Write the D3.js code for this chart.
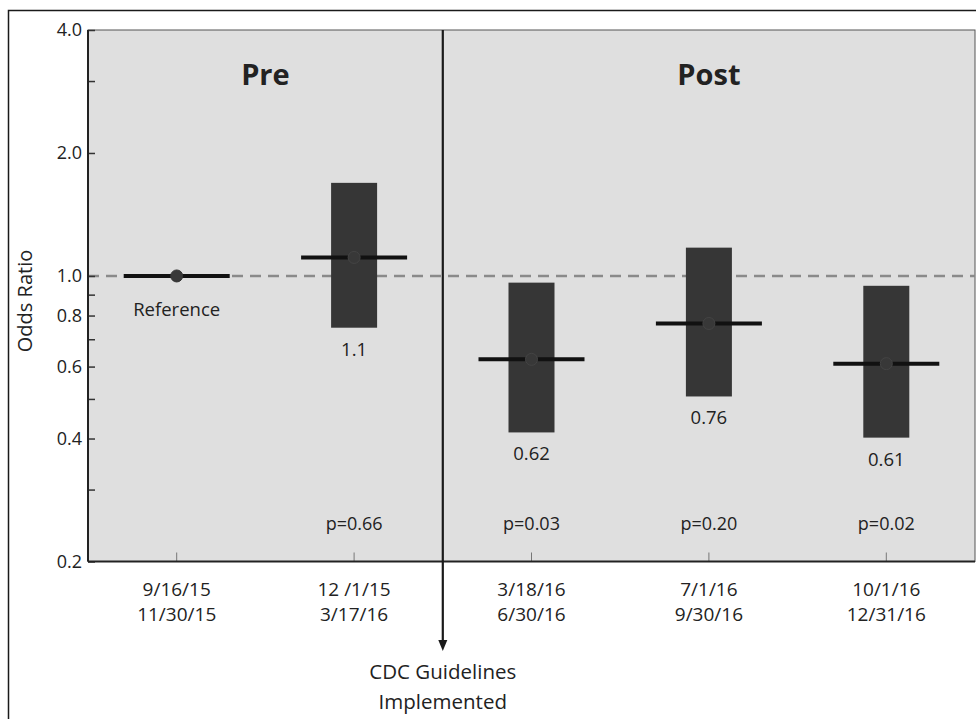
<!DOCTYPE html>
<html>
<head>
<meta charset="utf-8">
<script src="https://cdn.jsdelivr.net/npm/d3@7"></script>
<style>
  body { margin: 0; background: #fff; }
  text { font-family: "Open Sans", sans-serif; fill: #222; }
</style>
</head>
<body>
<div id="chart"></div>
<script>
// periods (two-line x labels)
var periodStart = ["9/16/15", "12 /1/15", "3/18/16", "7/1/16", "10/1/16"];
var periodEnd = ["11/30/15", "3/17/16", "6/30/16", "9/30/16", "12/31/16"];

// odds ratios and 95% CI
var oddsRatio = [1.0, 1.11, 0.625, 0.765, 0.61];
var ciLow = [null, 0.747, 0.414, 0.507, 0.402];
var ciHigh = [null, 1.69, 0.963, 1.173, 0.946];
var valueLabels = ["Reference", "1.1", "0.62", "0.76", "0.61"];
var pValues = ["", "p=0.66", "p=0.03", "p=0.20", "p=0.02"];

// y ticks
var majorTicks = [0.2, 0.4, 0.6, 0.8, 1.0, 2.0, 4.0];
var minorTicks = [0.3, 0.5, 0.7, 0.9, 3.0];

var svgWidth = 976, svgHeight = 719;
var margin = {top: 30, right: 1, bottom: 157.5, left: 88};
var chartWidth = svgWidth - margin.left - margin.right;
var chartHeight = svgHeight - margin.top - margin.bottom;

var svg = d3.select("#chart").append("svg")
    .attr("width", svgWidth)
    .attr("height", svgHeight);

// outer frame (top + left only, the rest is cut off)
svg.append("path")
    .attr("d", "M8.5," + svgHeight + "V10.5H" + svgWidth)
    .attr("fill", "none")
    .attr("stroke", "#1a1a1a")
    .attr("stroke-width", 1.5);

var g = svg.append("g")
    .attr("transform", `translate(${margin.left}, ${margin.top})`);

var idx = d3.range(periodStart.length);
var xScale = d3.scaleBand().domain(idx).range([0, chartWidth]);
var xMid = function(i) { return xScale(i) + xScale.bandwidth() / 2; };
var yScale = d3.scaleLog().domain([0.2, 4]).range([chartHeight, 0]);

// plot background
g.append("rect")
    .attr("width", chartWidth)
    .attr("height", chartHeight)
    .attr("fill", "#dfdfdf")
    .attr("stroke", "#555")
    .attr("stroke-width", 1);

// reference line at OR = 1
g.append("line")
    .attr("x1", 0).attr("x2", chartWidth)
    .attr("y1", yScale(1)).attr("y2", yScale(1))
    .attr("stroke", "#8a8a8a")
    .attr("stroke-width", 2.5)
    .attr("stroke-dasharray", "11,7");

// y axis
var yAxis = d3.axisRight(yScale)
    .tickValues(majorTicks)
    .tickSize(7)
    .tickFormat(d3.format(".1f"));
var yG = g.append("g").attr("class", "y axis").call(yAxis);
yG.select(".domain").remove();
yG.selectAll("line").attr("stroke", "#333").attr("stroke-width", 1.5);
yG.selectAll("text")
    .attr("x", -6)
    .attr("text-anchor", "end")
    .style("font-size", "18px");

var yMinor = g.append("g").attr("class", "y minor")
    .call(d3.axisRight(yScale).tickValues(minorTicks).tickSize(7).tickFormat(""));
yMinor.select(".domain").remove();
yMinor.selectAll("line").attr("stroke", "#333").attr("stroke-width", 1.5);

// x axis ticks (inward)
var xAxis = d3.axisTop(xScale).tickSize(9).tickFormat("");
var xG = g.append("g").attr("class", "x axis")
    .attr("transform", `translate(0, ${chartHeight})`)
    .call(xAxis);
xG.select(".domain").remove();
xG.selectAll("line").attr("stroke", "#777").attr("stroke-width", 1);

// x labels, two lines
var xLab = g.selectAll(".xlab")
    .data(idx)
    .enter()
    .append("text")
    .attr("class", "xlab")
    .attr("text-anchor", "middle")
    .style("font-size", "19px")
    .attr("x", xMid)
    .attr("y", chartHeight + 34);
xLab.append("tspan").attr("x", xMid).text(function(i) { return periodStart[i]; });
xLab.append("tspan").attr("x", xMid).attr("dy", 25).text(function(i) { return periodEnd[i]; });

// axis lines
g.append("line")
    .attr("x1", 0).attr("x2", 0).attr("y1", 0).attr("y2", chartHeight)
    .attr("stroke", "#222").attr("stroke-width", 2);
g.append("line")
    .attr("x1", 0).attr("x2", chartWidth).attr("y1", chartHeight).attr("y2", chartHeight)
    .attr("stroke", "#222").attr("stroke-width", 2);

// y label
g.append("text")
    .attr("transform", `translate(${25 - margin.left}, ${301 - margin.top}) rotate(-90)`)
    .attr("text-anchor", "middle")
    .attr("dy", "0.35em")
    .style("font-size", "20px")
    .text("Odds Ratio");

// CI boxes
var boxW = 46, lineW = 106;
var ciIdx = idx.filter(function(i) { return ciLow[i] !== null; });
g.selectAll(".ci")
    .data(ciIdx)
    .enter()
    .append("rect")
    .attr("class", "ci")
    .attr("x", function(i) { return xMid(i) - boxW / 2; })
    .attr("width", boxW)
    .attr("y", function(i) { return yScale(ciHigh[i]); })
    .attr("height", function(i) { return yScale(ciLow[i]) - yScale(ciHigh[i]); })
    .attr("fill", "#363636");

// estimate lines + dots
g.selectAll(".est")
    .data(idx)
    .enter()
    .append("line")
    .attr("class", "est")
    .attr("x1", function(i) { return xMid(i) - lineW / 2; })
    .attr("x2", function(i) { return xMid(i) + lineW / 2; })
    .attr("y1", function(i) { return yScale(oddsRatio[i]); })
    .attr("y2", function(i) { return yScale(oddsRatio[i]); })
    .attr("stroke", "#111")
    .attr("stroke-width", 4);

g.selectAll(".dot")
    .data(idx)
    .enter()
    .append("circle")
    .attr("class", "dot")
    .attr("cx", xMid)
    .attr("cy", function(i) { return yScale(oddsRatio[i]); })
    .attr("r", 6)
    .attr("fill", "#383838")
    .attr("stroke", function(i) { return ciLow[i] === null ? "#333" : "#444"; })
    .attr("stroke-width", 1);

// value labels under the boxes
g.selectAll(".vlab")
    .data(idx)
    .enter()
    .append("text")
    .attr("class", "vlab")
    .attr("text-anchor", "middle")
    .style("font-size", "18.5px")
    .attr("x", xMid)
    .attr("y", function(i) {
        return ciLow[i] === null ? yScale(oddsRatio[i]) + 40 : yScale(ciLow[i]) + 28;
    })
    .text(function(i) { return valueLabels[i]; });

// p values
g.selectAll(".plab")
    .data(idx)
    .enter()
    .append("text")
    .attr("class", "plab")
    .attr("text-anchor", "middle")
    .style("font-size", "18px")
    .attr("x", xMid)
    .attr("y", chartHeight - 32)
    .text(function(i) { return pValues[i]; });

// Pre / Post headers
var divX = xScale(2);
g.append("text")
    .attr("x", divX / 2).attr("y", 55)
    .attr("text-anchor", "middle")
    .style("font-size", "29px").style("font-weight", "bold")
    .text("Pre");
g.append("text")
    .attr("x", (divX + chartWidth) / 2).attr("y", 55)
    .attr("text-anchor", "middle")
    .style("font-size", "29px").style("font-weight", "bold")
    .text("Post");

// divider with arrow
g.append("line")
    .attr("x1", divX).attr("x2", divX)
    .attr("y1", 0).attr("y2", 612)
    .attr("stroke", "#1a1a1a").attr("stroke-width", 2.2);
g.append("path")
    .attr("d", `M${divX - 4.5},${610}L${divX + 4.5},${610}L${divX},${621}Z`)
    .attr("fill", "#1a1a1a");

var cdc = g.append("text")
    .attr("text-anchor", "middle")
    .style("font-size", "20.5px")
    .attr("x", divX)
    .attr("y", 649);
cdc.append("tspan").attr("x", divX).text("CDC Guidelines");
cdc.append("tspan").attr("x", divX).attr("dy", 30).text("Implemented");
</script>
</body>
</html>
